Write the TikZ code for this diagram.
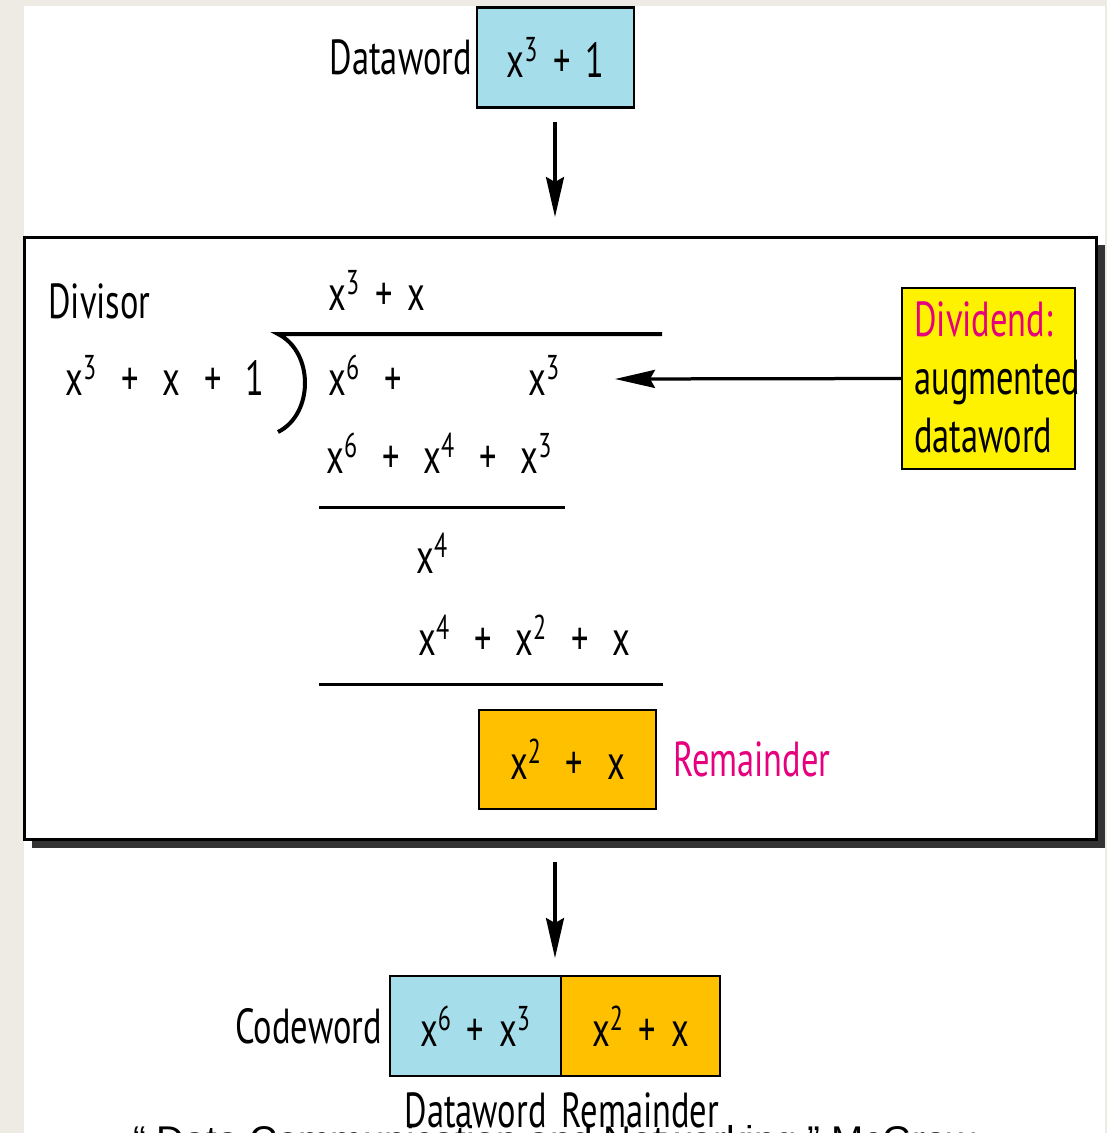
\documentclass[tikz,border=0pt]{standalone}
\usepackage{fontspec}
\setmainfont{PT Sans}[FakeStretch=0.7]
\newfontfamily\creditfont{Liberation Sans}
\usetikzlibrary{arrows.meta,positioning,shadows}
\definecolor{pagebg}{HTML}{EEEBE4}
\definecolor{wordblue}{HTML}{A6DDEA}
\definecolor{remorange}{HTML}{FFC000}
\definecolor{notemag}{HTML}{E6007E}
\definecolor{shadowgray}{HTML}{333333}
\newcommand{\xpow}[1]{x\textsuperscript{#1}}
\newcommand{\wgap}{\hspace{0.48cm}}
\newcommand{\ngap}{\hspace{0.3cm}}
\tikzset{
    flow/.style={-{Stealth[length=0.8cm, width=0.36cm, inset=0.1cm]}, line width=0.065cm},
    wordbox/.style={draw, line width=0.05cm, minimum height=2cm, inner sep=0, outer sep=0},
    lbl/.style={inner sep=0},
    rule/.style={line width=0.06cm}
}

\begin{document}
\begin{tikzpicture}[x=0.02cm, y=-0.02cm, font=\fontsize{28}{33}\selectfont]
    \useasboundingbox (0,0) rectangle (1107,1133);
    \clip (0,0) rectangle (1107,1133);
    \fill[pagebg] (0,0) rectangle (1107,1133);
    \fill[white] (24,6) rectangle (1105,1133);

    \node[wordbox, fill=wordblue, minimum width=3.14cm] (dw) at (555.5,57.5) {\xpow{3}\ngap+\ngap1};
    \node[lbl, left=0.1cm of dw] (dwlbl) {Dataword};

    \node[draw, line width=0.06cm, fill=white, minimum width=21.46cm, minimum height=12.06cm,
          drop shadow={shadow xshift=0.16cm, shadow yshift=-0.16cm, fill=shadowgray, opacity=1}] (main) at (560.5,538.5) {};
    \coordinate (in) at (555,217);
    \draw[flow] (555,122) -- (in);

    \node[lbl, anchor=base west] (divlbl) at (48,318) {Divisor};
    \node[lbl, anchor=base west] (divisor) at (65,395) {\xpow{3}\wgap+\wgap x\wgap+\wgap1};
    \node[lbl, anchor=base west] (quot) at (328,310) {\xpow{3}\ngap+\ngap x};
    \coordinate (bar) at (278,334);
    \draw[line width=0.08cm] (662,334) -- (bar) .. controls (314,352) and (314,414) .. (278,432);
    \node[lbl, anchor=base west] (dvd) at (328,395) {\makebox[4cm][l]{\xpow{6}\wgap+}\xpow{3}};
    \node[lbl, anchor=base west] (sub1) at (326,473) {\xpow{6}\wgap+\wgap\xpow{4}\wgap+\wgap\xpow{3}};
    \draw[rule] (319,507) -- (565,507);
    \node[lbl, anchor=base west] (part) at (416,573) {\xpow{4}};
    \node[lbl, anchor=base west] (sub2) at (418,655) {\xpow{4}\wgap+\wgap\xpow{2}\wgap+\wgap x};
    \draw[rule] (319,684) -- (663,684);

    \node[wordbox, fill=remorange, minimum width=3.54cm, minimum height=1.98cm] (rem) at (567.5,759.5) {\xpow{2}\wgap+\wgap x};
    \node[lbl, right=0.34cm of rem, text=notemag] (remlbl) {Remainder};

    \node[wordbox, fill=yellow, minimum width=3.46cm, minimum height=3.62cm] (dvdbox) at (988.5,378.5) {};
    \node[lbl, anchor=base west, align=left] (dvdtxt) at (914,452) {\textcolor{notemag}{Dividend:}\\augmented\\dataword};
    \coordinate (tip) at (615,379);
    \draw[flow] (dvdbox.west) -- (tip);

    \coordinate (out) at (555,958);
    \draw[flow] (555,862) -- (out);
    \node[wordbox, fill=wordblue, minimum width=3.42cm] (cwdata) at (475.5,1026) {\xpow{6}\ngap+\ngap\xpow{3}};
    \node[wordbox, fill=remorange, minimum width=3.18cm, right=0cm of cwdata] (cwrem) {\xpow{2}\ngap+\ngap x};
    \node[lbl, left=0.16cm of cwdata] (cwlbl) {Codeword};
    \node[lbl, below=0.32cm of cwdata] (cwdlbl) {Dataword};
    \node[lbl, below=0.32cm of cwrem] (cwrlbl) {Remainder};

    \node[lbl, anchor=base west, font=\creditfont\fontsize{22}{26}\selectfont] (credit) at (133,1153) {“ Data Communication and Networking ” McGraw};
\end{tikzpicture}
\end{document}
